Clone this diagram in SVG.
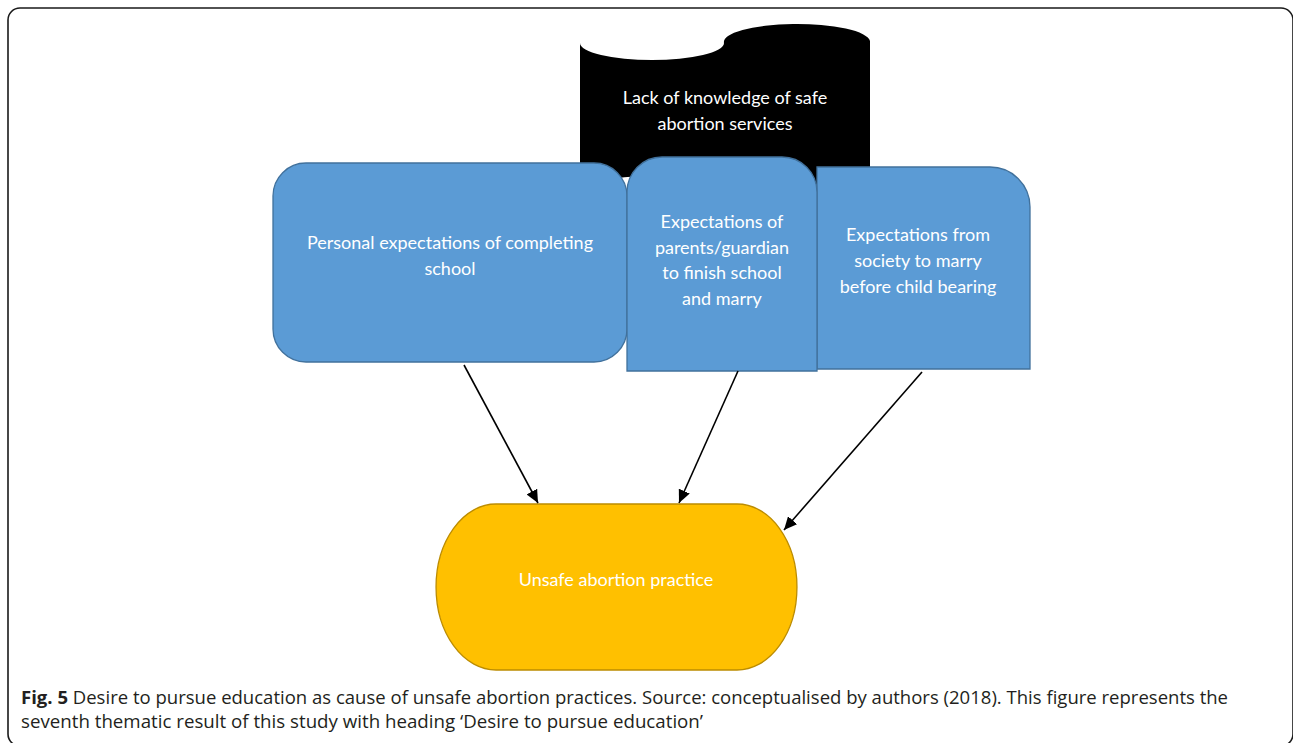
<svg xmlns="http://www.w3.org/2000/svg" width="1293" height="743" viewBox="0 0 1293 743">
<style>
.lbl{font-family:Lato,"Open Sans","Liberation Sans",sans-serif;font-size:18px;fill:#ffffff;text-anchor:middle}
.blue{fill:#5B9BD5;stroke:#41719C;stroke-width:1.3}
.cap{font-family:"Open Sans","Liberation Sans",sans-serif;font-size:17.5px;fill:#231F20}
.conn{stroke:#000;stroke-width:1.6;fill:none}
</style>
<defs>
<marker id="ah" markerUnits="userSpaceOnUse" markerWidth="14" markerHeight="12" refX="13" refY="6" orient="auto">
<path d="M0,0 L13,6 L0,12 Z" fill="#000"/>
</marker>
</defs>
<rect x="0" y="0" width="1293" height="743" fill="#ffffff"/>
<rect x="8" y="8" width="1285" height="738" rx="12" ry="12" fill="none" stroke="#1a1a1a" stroke-width="1.6"/>

<g id="node-knowledge">
<path d="M580,43 A72,17 0 0 0 724,43 A73,18 0 0 1 870,41 L870,193 A73,17 0 0 1 724,193 A72,17 0 0 0 580,193 Z" fill="#000"/>
<text class="lbl" x="725" y="104">Lack of knowledge of safe</text>
<text class="lbl" x="725" y="130">abortion services</text>
</g>

<g id="node-personal">
<rect class="blue" x="273" y="163" width="354" height="199" rx="33" ry="33"/>
<text class="lbl" x="450" y="249">Personal expectations of completing</text>
<text class="lbl" x="450" y="275">school</text>
</g>

<g id="node-society">
<path class="blue" d="M817,167 L990,167 A40,40 0 0 1 1030,207 L1030,369 L817,369 Z"/>
<text class="lbl" x="918" y="241">Expectations from</text>
<text class="lbl" x="918" y="267">society to marry</text>
<text class="lbl" x="918" y="293">before child bearing</text>
</g>

<g id="node-parents">
<path class="blue" d="M627,371 L627,192 A35,35 0 0 1 662,157 L782,157 A35,35 0 0 1 817,192 L817,371 Z"/>
<text class="lbl" x="722" y="228">Expectations of</text>
<text class="lbl" x="722" y="254">parents/guardian</text>
<text class="lbl" x="722" y="279">to finish school</text>
<text class="lbl" x="722" y="305">and marry</text>
</g>

<g id="node-unsafe">
<path d="M496,504 L737,504 A60,83 0 0 1 737,670 L496,670 A60,83 0 0 1 496,504 Z" fill="#FFC000" stroke="#BC8C00" stroke-width="1.3"/>
<text class="lbl" x="616" y="586">Unsafe abortion practice</text>
</g>

<g id="connectors">
<line class="conn" x1="464" y1="365" x2="538" y2="503" marker-end="url(#ah)"/>
<line class="conn" x1="738" y1="371" x2="679" y2="503" marker-end="url(#ah)"/>
<line class="conn" x1="922" y1="372" x2="784" y2="530" marker-end="url(#ah)"/>
</g>

<g id="caption">
<text class="cap" x="21" y="704" textLength="1207" lengthAdjust="spacingAndGlyphs"><tspan font-weight="bold">Fig. 5</tspan> Desire to pursue education as cause of unsafe abortion practices. Source: conceptualised by authors (2018). This figure represents the</text>
<text class="cap" x="21" y="728" textLength="682" lengthAdjust="spacingAndGlyphs">seventh thematic result of this study with heading ‘Desire to pursue education’</text>
</g>
</svg>
